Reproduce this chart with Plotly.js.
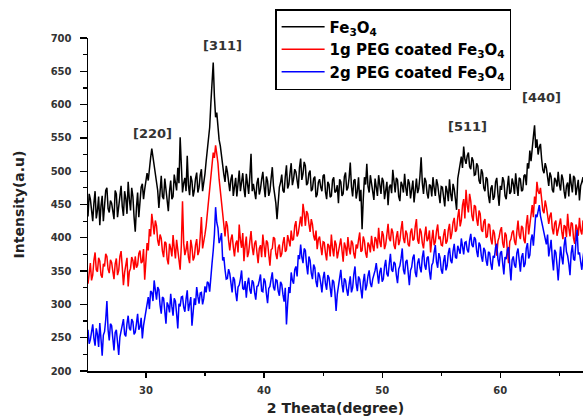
<!DOCTYPE html>
<html>
<head>
<meta charset="utf-8">
<script src="https://cdn.plot.ly/plotly-3.0.1.min.js"></script>
<style>html,body{margin:0;padding:0;background:#fff;}#chart{width:583px;height:416px;}</style>
</head>
<body>
<div id="chart"></div>
<script>
// 2-theta scan: first angle and step (degrees)
const START_2THETA = 25.1;
const STEP_2THETA = 0.1;

// Intensity (a.u.), one value per step (25.1 ... 67.1)
const fe3o4 = [
  432,466,458,437,425,452,470,429,441,462,419,448,463,425,447,471,475,444,438,456,
  452,440,428,471,466,431,445,457,478,447,433,470,459,436,484,458,441,475,462,431,
  409,445,468,431,452,476,481,458,473,490,497,486,508,520,534,522,512,497,487,471,
  445,478,493,462,458,489,471,452,440,470,486,458,462,495,478,471,505,482,551,492,
  468,482,490,470,523,479,464,493,485,462,471,489,498,468,476,494,503,470,482,496,
  515,530,548,566,602,628,663,612,581,588,560,547,538,521,506,495,484,508,499,478,
  470,488,495,463,478,490,462,481,501,470,483,497,474,461,496,480,466,493,526,470,
  481,469,458,482,490,465,473,488,499,477,461,492,485,463,470,489,506,478,464,452,
  428,461,476,483,495,471,468,492,509,474,480,497,512,479,488,503,499,486,474,505,
  519,487,496,514,508,479,482,497,501,470,473,489,492,461,465,483,488,476,470,493,
  495,469,458,484,480,461,463,487,491,468,470,479,452,488,484,463,466,492,498,471,
  475,490,513,477,462,486,488,459,470,491,455,472,413,458,491,480,511,477,468,494,
  482,468,457,489,476,463,494,478,466,490,485,458,471,484,449,476,480,467,502,479,
  468,490,487,462,455,484,479,468,496,475,463,488,482,459,470,486,453,477,489,467,
  474,493,521,482,466,490,485,467,459,480,478,462,491,475,463,488,480,465,452,477,
  476,461,447,478,470,455,488,466,455,481,473,458,442,489,500,514,522,505,537,518,
  511,523,528,507,503,521,516,494,495,512,508,486,481,503,497,475,470,491,488,463,
  452,474,479,457,462,484,490,466,448,478,472,491,485,463,458,477,493,466,469,489,
  481,466,497,478,463,490,488,470,472,493,495,479,512,504,531,515,540,552,569,535,
  548,525,536,541,518,502,497,512,505,487,478,498,492,472,468,490,486,477,499,480,
  471,495,488,470,459,478,483,462,496,481,468,493,490,464,475,487,456,478,484,491,472
];
const peg1g = [
  331,349,362,336,344,366,378,352,349,370,365,344,340,361,357,376,372,353,347,367,
  363,350,338,361,369,344,351,372,380,356,329,348,361,370,327,349,354,371,366,352,
  372,355,359,376,381,362,364,383,337,368,392,381,413,402,436,421,405,426,418,396,
  388,405,399,380,371,394,392,368,360,391,384,372,404,385,369,397,381,366,352,388,
  455,392,374,382,395,371,362,397,386,366,371,389,398,374,380,402,431,384,392,405,
  418,436,458,482,497,512,528,520,539,526,512,488,470,447,428,411,402,425,418,396,
  381,398,405,386,372,391,396,378,420,397,385,407,365,388,402,371,378,395,410,386,
  374,391,396,378,362,384,389,371,405,388,371,396,393,375,358,382,384,401,399,376,
  368,385,390,371,376,392,401,379,382,404,395,387,411,396,398,418,425,402,407,421,
  432,417,451,438,418,440,436,421,409,428,420,403,396,411,383,398,402,387,374,394,
  393,377,366,391,388,372,405,384,372,396,390,369,378,392,399,381,364,393,386,373,
  401,384,375,396,392,376,369,390,384,397,408,379,381,402,395,377,370,393,389,378,
  403,388,380,401,397,384,415,394,386,410,404,383,390,405,421,399,395,414,408,389,
  383,401,410,389,396,413,425,399,392,411,406,390,387,408,414,396,398,417,428,397,
  391,414,409,392,384,403,417,395,399,411,378,397,412,389,394,410,420,398,402,389,
  388,404,413,391,395,412,421,398,407,423,430,409,412,431,443,417,426,449,458,429,
  472,449,438,466,455,433,425,449,447,428,418,441,436,412,409,424,428,400,402,421,
  419,398,390,412,407,389,373,395,401,411,416,392,385,408,404,381,362,394,398,408,
  411,395,389,409,426,404,398,418,415,397,392,420,434,405,418,437,449,431,462,451,
  484,470,466,475,452,441,437,456,447,429,421,433,438,414,405,422,426,403,411,424,
  429,410,398,419,417,401,436,415,402,423,421,399,391,420,414,403,430,411,405,426,418
];
const peg2g = [
  262,241,247,262,270,249,238,264,255,236,272,248,223,254,259,277,305,262,246,271,
  268,249,231,258,262,243,224,251,259,266,278,255,252,271,283,264,261,278,274,255,
  258,271,286,262,266,280,249,268,279,289,301,311,293,320,318,305,336,319,307,326,
  322,299,286,311,309,290,271,303,298,288,316,297,283,309,305,286,264,301,297,311,
  312,296,289,308,321,290,298,311,268,293,309,299,326,312,301,317,318,300,309,327,
  318,334,332,319,347,362,381,405,446,423,415,392,398,407,366,371,352,338,339,353,
  346,329,318,341,337,318,305,326,329,338,351,324,322,335,310,331,340,322,316,336,
  333,318,307,327,328,336,345,320,319,339,334,316,302,324,327,338,348,326,321,337,
  336,320,313,334,330,315,304,325,270,301,326,317,348,336,331,352,357,342,374,368,
  390,371,362,384,381,359,345,372,366,347,338,360,355,334,326,348,343,332,318,339,
  349,331,322,344,340,325,311,337,334,318,290,315,327,341,352,330,318,339,336,322,
  313,330,342,318,325,345,357,331,320,342,338,323,309,334,346,321,329,343,351,332,
  326,338,344,351,362,340,331,349,355,334,338,357,367,346,342,361,376,352,349,364,
  361,344,332,353,358,369,384,352,345,364,367,348,329,351,356,370,375,348,341,362,
  369,355,348,371,381,359,352,370,372,350,337,359,363,378,389,364,355,377,370,352,
  346,365,374,351,358,377,385,366,362,380,391,371,369,388,383,376,399,384,375,393,
  394,382,378,396,406,389,386,401,398,380,371,393,389,372,364,385,381,366,358,379,
  377,361,352,373,370,386,391,368,357,377,380,362,345,371,368,382,386,358,336,367,
  372,359,355,377,384,366,349,371,377,356,361,384,392,369,374,397,405,388,419,435,
  431,441,449,433,425,417,408,397,390,405,372,384,397,369,351,382,378,359,336,362,
  387,371,360,388,401,379,373,361,344,377,389,368,366,394,412,375,378,364,352,370,383
];

const seriesNames = [
  'Fe<sub>3</sub>O<sub>4</sub>',
  '1g PEG coated Fe<sub>3</sub>O<sub>4</sub>',
  '2g PEG coated Fe<sub>3</sub>O<sub>4</sub>'
];
const seriesColors = ['#000000', '#ff0000', '#0000ff'];

// Miller-index labels: text, 2θ, intensity
const peakLabels = ['[220]', '[311]', '[511]', '[440]'];
const peakX = [30.6, 36.45, 57.25, 63.45];
const peakY = [557, 688, 567, 610];

const FONT = 'DejaVu Sans, Verdana, sans-serif';

const traces = [fe3o4, peg1g, peg2g].map((ys, k) => ({
  type: 'scatter',
  mode: 'lines',
  x0: START_2THETA,
  dx: STEP_2THETA,
  y: ys,
  name: seriesNames[k],
  line: {color: seriesColors[k], width: 1.5}
}));

const annotations = peakLabels.map((t, i) => ({
  x: peakX[i], y: peakY[i], xref: 'x', yref: 'y',
  text: t, showarrow: false,
  font: {family: FONT, size: 13, color: '#333333', weight: 'bold'}
}));

const layout = {
  width: 583, height: 416,
  margin: {l: 88, r: 0, t: 38, b: 45},
  paper_bgcolor: '#ffffff', plot_bgcolor: '#ffffff',
  showlegend: true,
  legend: {
    x: 0.378, y: 1.087, xanchor: 'left', yanchor: 'top',
    bordercolor: '#000000', borderwidth: 1.5, bgcolor: '#ffffff',
    font: {family: FONT, size: 15, color: '#000000', weight: 'bold'},
    itemwidth: 43, tracegroupgap: 0
  },
  xaxis: {
    range: [25.1, 67.0],
    tick0: 0, dtick: 10,
    ticks: 'outside', ticklen: 5, tickwidth: 1.3, tickcolor: '#000',
    minor: {dtick: 5, tick0: 0, ticks: 'outside', ticklen: 3, tickwidth: 1.2, tickcolor: '#000'},
    showline: true, linecolor: '#000', linewidth: 1.5,
    showgrid: false, zeroline: false,
    ticklabelstandoff: 4,
    tickfont: {family: FONT, size: 10, color: '#333333', weight: 'bold'},
    title: {text: '2 Theata(degree)', standoff: 10,
            font: {family: FONT, size: 14, color: '#222222', weight: 'bold'}}
  },
  yaxis: {
    range: [200, 700],
    tick0: 0, dtick: 50,
    ticks: 'outside', ticklen: 7, tickwidth: 1.3, tickcolor: '#000',
    minor: {dtick: 25, tick0: 0, ticks: 'outside', ticklen: 4, tickwidth: 1.2, tickcolor: '#000'},
    showline: true, linecolor: '#000', linewidth: 1.5,
    showgrid: false, zeroline: false,
    ticklabelstandoff: 6,
    tickfont: {family: FONT, size: 10, color: '#333333', weight: 'bold'},
    title: {text: 'Intensity(a.u)', standoff: 22,
            font: {family: FONT, size: 14, color: '#222222', weight: 'bold'}}
  },
  annotations: annotations
};

Plotly.newPlot('chart', traces, layout, {displayModeBar: false, staticPlot: true});
</script>
</body>
</html>
